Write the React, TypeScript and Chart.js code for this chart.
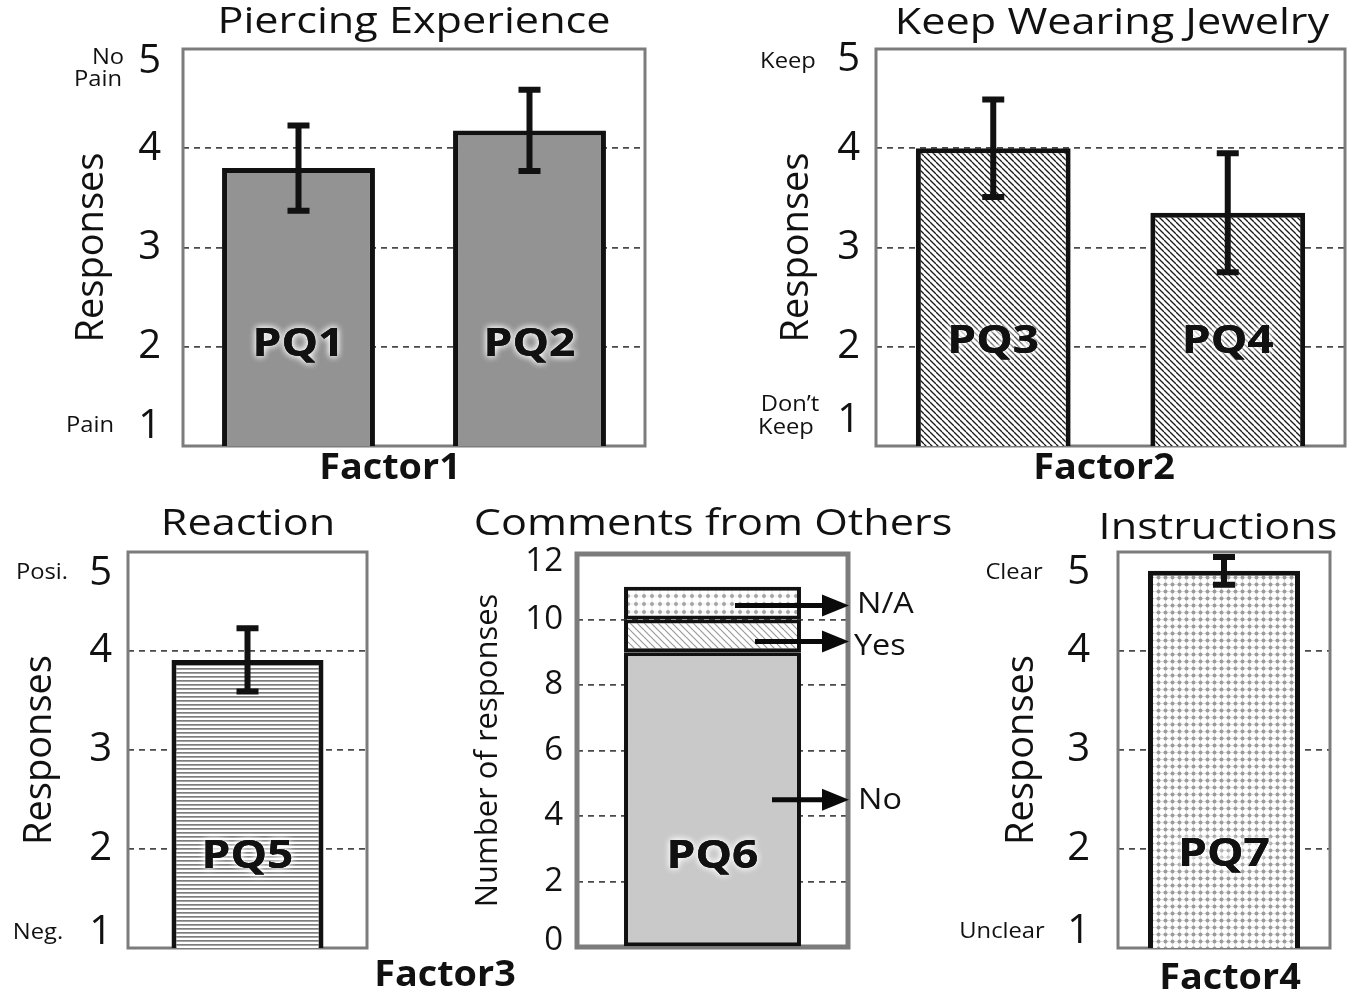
import React, { useEffect, useRef } from 'react';
import { Chart, registerables } from 'chart.js';

Chart.register(...registerables);

const FONT = '"Open Sans", "Noto Sans", sans-serif';

// ---------- data ----------
const likertTicks = [1, 2, 3, 4, 5];
const countTicks = [0, 2, 4, 6, 8, 10, 12];

const factor1Items = ['PQ1', 'PQ2'];
const factor1Means = [3.8, 4.18];
const factor1Errors = [0.43, 0.41];

const factor2Items = ['PQ3', 'PQ4'];
const factor2Means = [4.0, 3.35];
const factor2Errors = [0.49, 0.6];

const factor3Items = ['PQ5'];
const factor3Means = [3.91];
const factor3Errors = [0.32];

const pq6Items = ['PQ6'];
const pq6No = [9];
const pq6Yes = [1];
const pq6NA = [1];
const pq6SeriesNames = ['No', 'Yes', 'N/A'];

const factor4Items = ['PQ7'];
const factor4Means = [4.81];
const factor4Errors = [0.14];

// ---------- patterns ----------
function makePattern(w: number, h: number, draw: (c: CanvasRenderingContext2D) => void): CanvasPattern {
  const cv = document.createElement('canvas');
  cv.width = w;
  cv.height = h;
  const c = cv.getContext('2d')!;
  c.fillStyle = '#ffffff';
  c.fillRect(0, 0, w, h);
  draw(c);
  return c.createPattern(cv, 'repeat')!;
}

function hatch(size: number, color: string, lw: number) {
  return makePattern(size, size, (c) => {
    c.strokeStyle = color;
    c.lineWidth = lw;
    for (const k of [-size, 0, size]) {
      c.beginPath();
      c.moveTo(0, k);
      c.lineTo(size, k + size);
      c.stroke();
    }
  });
}

function dots(size: number, color: string, faint: string, r: number) {
  return makePattern(size, size, (c) => {
    c.strokeStyle = faint;
    c.lineWidth = 1;
    c.beginPath();
    c.moveTo(0, size / 2);
    c.lineTo(size, size / 2);
    c.moveTo(size / 2, 0);
    c.lineTo(size / 2, size);
    c.stroke();
    c.fillStyle = color;
    c.beginPath();
    c.arc(size / 2, size / 2, r, 0, Math.PI * 2);
    c.fill();
  });
}

function hlines(h: number, color: string, lw: number) {
  return makePattern(4, h, (c) => {
    c.fillStyle = color;
    c.fillRect(0, 0, 4, lw);
  });
}

// ---------- panel definitions ----------
type Txt = { t: string; x: number; y: number; size: number; bold?: boolean; sx?: number; align?: CanvasTextAlign };
type Arrow = { x1: number; value: number; label: string; lx: number; ly: number };

interface Panel {
  box: { l: number; t: number; r: number; b: number };
  yTitleCenter: number;
  yTitle: string;
  yTitleSize: number;
  ticks: number[];
  tickSize: number;
  tickPad: number;
  labelShift: { top: number; bottom: number };
  stacked: boolean;
  labels: string[];
  datasets: any[];
  means?: number[];
  errors?: number[];
  barLabelValue: number;
  texts: Txt[];
  arrows?: Arrow[];
  boxWidth: number;
}

function buildPanels(): Panel[] {
  const solid1 = '#939393';
  const diag = hatch(6, '#1a1a1a', 1.3);
  const horiz = hlines(4, '#7e7e7e', 1.7);
  const dotFill = dots(7, '#9c9c9c', '#e0e0e0', 2.0);
  const yesFill = hatch(7, '#9a9a9a', 1.2);
  const naFill = dots(8, '#a5a5a5', '#e8e8e8', 2.0);

  const barDs = (data: number[], bg: any, pct: number, bw = 5) => ({
    data,
    backgroundColor: bg,
    borderColor: '#111111',
    borderWidth: bw,
    borderSkipped: false,
    barPercentage: pct,
    categoryPercentage: 1,
  });

  return [
    {
      box: { l: 183, t: 49, r: 645, b: 446 },
      yTitleCenter: 92,
      yTitle: 'Responses',
      yTitleSize: 38,
      ticks: likertTicks,
      tickSize: 40,
      tickPad: 22,
      labelShift: { top: 13, bottom: -19 },
      stacked: false,
      labels: factor1Items,
      datasets: [barDs(factor1Means, solid1, 0.662)],
      means: factor1Means,
      errors: factor1Errors,
      barLabelValue: 2.02,
      boxWidth: 3,
      texts: [
        { t: 'Piercing Experience', x: 414, y: 23, size: 36, sx: 1.2 },
        { t: 'No', x: 108, y: 58, size: 22 },
        { t: 'Pain', x: 98, y: 80, size: 22 },
        { t: 'Pain', x: 90, y: 426, size: 22 },
        { t: 'Factor1', x: 390, y: 469, size: 35, bold: true },
      ],
    },
    {
      box: { l: 876, t: 49, r: 1345, b: 446 },
      yTitleCenter: 797,
      yTitle: 'Responses',
      yTitleSize: 38,
      ticks: likertTicks,
      tickSize: 40,
      tickPad: 16,
      labelShift: { top: 11, bottom: -25 },
      stacked: false,
      labels: factor2Items,
      datasets: [barDs(factor2Means, diag, 0.66)],
      means: factor2Means,
      errors: factor2Errors,
      barLabelValue: 2.05,
      boxWidth: 3,
      texts: [
        { t: 'Keep Wearing Jewelry', x: 1112, y: 24, size: 36, sx: 1.2 },
        { t: 'Keep', x: 788, y: 62, size: 22 },
        { t: 'Don\u2019t', x: 790, y: 405, size: 22 },
        { t: 'Keep', x: 786, y: 428, size: 22 },
        { t: 'Factor2', x: 1104, y: 469, size: 35, bold: true },
      ],
    },
    {
      box: { l: 128, t: 552, r: 367, b: 948 },
      yTitleCenter: 40,
      yTitle: 'Responses',
      yTitleSize: 38,
      ticks: likertTicks,
      tickSize: 40,
      tickPad: 16,
      labelShift: { top: 22, bottom: -15 },
      stacked: false,
      labels: factor3Items,
      datasets: [barDs(factor3Means, horiz, 0.636)],
      means: factor3Means,
      errors: factor3Errors,
      barLabelValue: 1.92,
      boxWidth: 3,
      texts: [
        { t: 'Reaction', x: 248, y: 525, size: 36, sx: 1.2 },
        { t: 'Posi.', x: 42, y: 573, size: 22 },
        { t: 'Neg.', x: 38, y: 933, size: 22 },
        { t: 'Factor3', x: 445, y: 976, size: 35, bold: true },
      ],
    },
    {
      box: { l: 577, t: 554, r: 848, b: 947 },
      yTitleCenter: 488,
      yTitle: 'Number of responses',
      yTitleSize: 31,
      ticks: countTicks,
      tickSize: 33,
      tickPad: 14,
      labelShift: { top: 8, bottom: -6 },
      stacked: true,
      labels: pq6Items,
      datasets: [
        { ...barDs(pq6No, '#c9c9c9', 0.653, 4), label: pq6SeriesNames[0] },
        { ...barDs(pq6Yes, yesFill, 0.653, 4), label: pq6SeriesNames[1] },
        { ...barDs(pq6NA, naFill, 0.653, 4), label: pq6SeriesNames[2] },
      ],
      barLabelValue: 2.75,
      boxWidth: 5,
      texts: [{ t: 'Comments from Others', x: 713, y: 525, size: 36, sx: 1.2 }],
      arrows: [
        { x1: 735, value: 10.43, label: 'N/A', lx: 857, ly: 604 },
        { x1: 755, value: 9.33, label: 'Yes', lx: 854, ly: 646 },
        { x1: 772, value: 4.5, label: 'No', lx: 858, ly: 800 },
      ],
    },
    {
      box: { l: 1118, t: 552, r: 1330, b: 948 },
      yTitleCenter: 1022,
      yTitle: 'Responses',
      yTitleSize: 38,
      ticks: likertTicks,
      tickSize: 40,
      tickPad: 28,
      labelShift: { top: 21, bottom: -16 },
      stacked: false,
      labels: factor4Items,
      datasets: [barDs(factor4Means, dotFill, 0.717)],
      means: factor4Means,
      errors: factor4Errors,
      barLabelValue: 1.94,
      boxWidth: 3,
      texts: [
        { t: 'Instructions', x: 1218, y: 529, size: 36, sx: 1.2 },
        { t: 'Clear', x: 1014, y: 573, size: 22 },
        { t: 'Unclear', x: 1002, y: 932, size: 22 },
        { t: 'Factor4', x: 1230, y: 979, size: 35, bold: true },
      ],
    },
  ];
}

function drawText(ctx: CanvasRenderingContext2D, t: Txt, glow = false) {
  ctx.save();
  ctx.translate(t.x, t.y);
  ctx.scale(t.sx ?? 1.08, 1);
  ctx.font = `${t.bold ? 'bold ' : ''}${t.size}px ${FONT}`;
  ctx.textAlign = t.align ?? 'center';
  ctx.textBaseline = 'middle';
  if (glow) {
    ctx.shadowColor = 'rgba(255,255,255,0.95)';
    ctx.shadowBlur = 7;
    ctx.fillStyle = '#111111';
    ctx.fillText(t.t, 0, 0);
    ctx.fillText(t.t, 0, 0);
  }
  ctx.shadowBlur = 0;
  ctx.fillStyle = '#111111';
  ctx.fillText(t.t, 0, 0);
  ctx.restore();
}

function decorPlugin(p: Panel) {
  return {
    id: 'decor',
    beforeDatasetsDraw(chart: any) {
      const { ctx, chartArea } = chart;
      ctx.save();
      ctx.strokeStyle = '#7c7c7c';
      ctx.lineWidth = p.boxWidth;
      ctx.strokeRect(chartArea.left, chartArea.top, chartArea.right - chartArea.left, chartArea.bottom - chartArea.top);
      ctx.restore();
    },
    afterDatasetsDraw(chart: any) {
      const { ctx } = chart;
      const y = chart.scales.y;
      const meta = chart.getDatasetMeta(0);
      // error bars
      if (p.means && p.errors) {
        ctx.save();
        ctx.strokeStyle = '#111111';
        ctx.lineWidth = 6;
        p.means.forEach((m, i) => {
          const x = meta.data[i].x;
          const yt = y.getPixelForValue(m + p.errors![i]);
          const yb = y.getPixelForValue(m - p.errors![i]);
          ctx.beginPath();
          ctx.moveTo(x, yt);
          ctx.lineTo(x, yb);
          ctx.moveTo(x - 11, yt);
          ctx.lineTo(x + 11, yt);
          ctx.moveTo(x - 11, yb);
          ctx.lineTo(x + 11, yb);
          ctx.stroke();
        });
        ctx.restore();
      }
      // bar labels
      p.labels.forEach((lab, i) => {
        const x = meta.data[i].x;
        drawText(ctx, { t: lab, x, y: y.getPixelForValue(p.barLabelValue), size: 40, bold: true, sx: 1.15 }, true);
      });
      // arrows
      if (p.arrows) {
        const xr = chart.chartArea.right;
        p.arrows.forEach((a) => {
          const ay = y.getPixelForValue(a.value);
          ctx.save();
          ctx.strokeStyle = '#0a0a0a';
          ctx.fillStyle = '#0a0a0a';
          ctx.lineWidth = 5;
          ctx.beginPath();
          ctx.moveTo(a.x1, ay);
          ctx.lineTo(xr - 22, ay);
          ctx.stroke();
          ctx.beginPath();
          ctx.moveTo(xr + 1, ay);
          ctx.lineTo(xr - 26, ay - 11);
          ctx.lineTo(xr - 26, ay + 11);
          ctx.closePath();
          ctx.fill();
          ctx.restore();
          drawText(ctx, { t: a.label, x: a.lx, y: a.ly, size: 30, align: 'left', sx: 1.08 });
        });
      }
      p.texts.forEach((t) => drawText(ctx, t));
    },
  };
}

function PanelChart({ p }: { p: Panel }) {
  const ref = useRef<HTMLCanvasElement>(null);
  useEffect(() => {
    const lo = p.ticks[0];
    const hi = p.ticks[p.ticks.length - 1];
    const axisW = p.box.l - (p.yTitleCenter - (p.yTitleSize * 1.2) / 2);
    const chart = new Chart(ref.current!, {
      type: 'bar',
      data: { labels: p.labels, datasets: p.datasets },
      options: {
        responsive: false,
        animation: false,
        devicePixelRatio: 1,
        layout: {
          padding: {
            left: p.box.l - axisW,
            top: p.box.t,
            right: 1360 - p.box.r,
            bottom: 998 - p.box.b,
          },
        },
        plugins: { legend: { display: false }, tooltip: { enabled: false }, title: { display: false } },
        scales: {
          x: { display: false, stacked: p.stacked },
          y: {
            min: lo,
            max: hi,
            stacked: p.stacked,
            afterBuildTicks: (s: any) => {
              s.ticks = p.ticks.map((v) => ({ value: v }));
            },
            afterFit: (s: any) => {
              s.width = axisW;
              s.paddingTop = 0;
              s.paddingBottom = 0;
              // nudge the outermost tick labels inward, as in the original figure
              // (their grid lines are hidden, so only the labels move)
              const base = Object.getPrototypeOf(s).getPixelForTick;
              s.getPixelForTick = function (i: number) {
                const v = base.call(this, i);
                if (i === 0) return v + p.labelShift.bottom;
                if (i === this.ticks.length - 1) return v + p.labelShift.top;
                return v;
              };
            },
            ticks: {
              font: { family: FONT, size: p.tickSize },
              color: '#111111',
              padding: p.tickPad,
            },
            grid: {
              color: (c: any) => (c.tick && (c.tick.value === lo || c.tick.value === hi) ? 'rgba(0,0,0,0)' : '#4a4a4a'),
              lineWidth: 1.7,
              drawTicks: false,
            },
            border: { display: false, dash: [6, 5] },
            title: {
              display: true,
              text: p.yTitle,
              font: { family: FONT, size: p.yTitleSize, lineHeight: 1.2 },
              color: '#111111',
              padding: 0,
            },
          },
        },
      } as any,
      plugins: [decorPlugin(p)],
    });
    return () => chart.destroy();
  }, [p]);
  return (
    <canvas
      ref={ref}
      width={1360}
      height={998}
      style={{ position: 'absolute', left: 0, top: 0, width: 1360, height: 998 }}
    />
  );
}

export default function App() {
  const panels = React.useMemo(() => buildPanels(), []);
  return (
    <div style={{ position: 'absolute', left: 0, top: 0, width: 1360, height: 998, background: '#ffffff' }}>
      {panels.map((p, i) => (
        <PanelChart key={i} p={p} />
      ))}
    </div>
  );
}
